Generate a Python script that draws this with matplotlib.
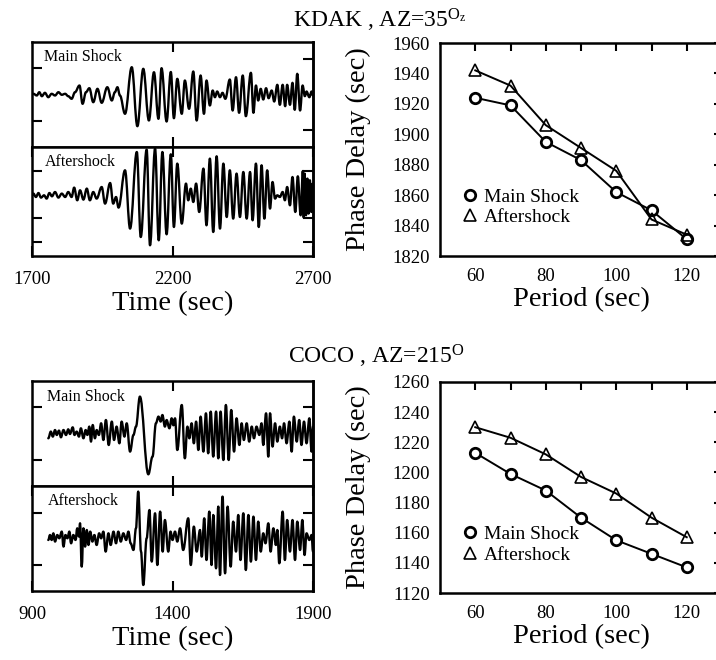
import matplotlib
matplotlib.use('Agg')
import matplotlib.pyplot as plt
from matplotlib.lines import Line2D
from matplotlib.path import Path
from matplotlib.patches import PathPatch

plt.rcParams['font.family'] = ['Liberation Serif', 'DejaVu Serif']
plt.rcParams['mathtext.fontset'] = 'custom'
plt.rcParams['mathtext.rm'] = 'Liberation Serif'
plt.rcParams['mathtext.it'] = 'Liberation Serif:italic'

# ---------------- data ----------------
periods = [60, 70, 80, 90, 100, 110, 120]
kdak_main_delay = [1924, 1919, 1895, 1883, 1862, 1850, 1831]
kdak_after_delay = [1942, 1932, 1906, 1891, 1876, 1844, 1834]
coco_main_delay = [1213, 1199, 1188, 1170, 1155, 1146, 1137]
coco_after_delay = [1230, 1223, 1212, 1197, 1186, 1170, 1157]

kdak_time_ticks = [1700, 2200, 2700]
coco_time_ticks = [900, 1400, 1900]
period_ticks = [60, 80, 100, 120]
period_minor = [70, 90, 110]
kdak_delay_ticks = [1820, 1840, 1860, 1880, 1900, 1920, 1940, 1960]
coco_delay_ticks = [1120, 1140, 1160, 1180, 1200, 1220, 1240, 1260]

# seismogram turning points (time in s, amplitude in arbitrary units)
kdak_main_t = [1700, 1705, 1717, 1726, 1735, 1746, 1758, 1770, 1782, 1794,
               1806, 1818, 1829, 1841, 1853, 1869, 1880, 1892, 1904, 1918,
               1933, 1948, 1968, 1984, 1995, 2004, 2013, 2031, 2055, 2075,
               2096, 2116, 2134, 2150, 2161, 2179, 2194, 2205, 2217, 2233,
               2244, 2259, 2274, 2286, 2300, 2312, 2321, 2333, 2343, 2351,
               2359, 2369, 2378, 2388, 2404, 2414, 2426, 2437, 2450, 2461,
               2479, 2488, 2497, 2505, 2514, 2523, 2533, 2542, 2553, 2562,
               2573, 2582, 2592, 2601, 2608, 2618, 2627, 2635, 2644, 2654,
               2663, 2671, 2677, 2687, 2695, 2700]
kdak_main_a = [0, 0.7, -1, 2.3, -1.7, 1.7, -2.7, 0.7, -1, 2.3,
               -0.3, 0.7, -1.7, -4.3, 2.3, 9, -9.3, 2.3, 6.3, -7.7,
               5.7, -8.3, 7.3, -6, 2.3, 7.3, -1, -19.3, 27.3, -31.7,
               25.7, -26, 22.3, -24.3, 26.3, -27, 22.5, -23.7, 15.7, -19.3,
               14, -14.3, 23, -26, 19, -19.3, 14, -11, 4, -2.7,
               3, -2.7, 1.7, -4.3, 15, -16, 17.3, -18.3, 19, -21.7,
               21.7, -18.3, 9, -6, 5.7, -5, 6.3, -3.7, 4, -7,
               9.7, -10.3, 9.7, -11.7, 9.7, -10.3, 11.7, -15.3, 20.7, -16,
               9, -1.7, 3, -2.7, 3, -1]

kdak_after_t = [1700, 1705, 1714, 1723, 1732, 1743, 1752, 1762, 1771, 1782,
                1794, 1806, 1818, 1829, 1841, 1850, 1861, 1871, 1883, 1895,
                1906, 1918, 1930, 1948, 1960, 1978, 1989, 1999, 2008, 2031,
                2049, 2073, 2087, 2108, 2120, 2138, 2151, 2164, 2179, 2194,
                2205, 2217, 2233, 2248, 2256, 2265, 2274, 2284, 2295, 2310,
                2321, 2333, 2345, 2357, 2369, 2381, 2393, 2404, 2416, 2428,
                2440, 2452, 2464, 2476, 2485, 2497, 2507, 2517, 2527, 2537,
                2547, 2556, 2565, 2573, 2582, 2592, 2600, 2608, 2618, 2627,
                2637, 2646, 2656, 2664, 2667, 2670, 2675, 2680, 2684, 2689,
                2694, 2699, 2700]
kdak_after_a = [0, 1.7, -1.7, 2.3, -2.3, 0, -3.3, 2.3, -1, 3.3,
                -2.3, 1.7, -1.7, 3.3, -1.7, 7.7, -5, 5, -4.3, 6.7,
                -5, 3.3, -3.3, 8.3, -8.3, 12.3, -8.3, -1.7, -12.3, 25,
                -33.3, 43.3, -41.7, 45.7, -50, 46.7, -45, 43.3, -39, 41,
                -31.7, 31.7, -28.3, 11.7, -5, 6.7, -6.7, 11.7, -16.7, 26.7,
                -30, 36.7, -36.7, 39, -33.3, 31.7, -21.7, 25, -23.3, 21.7,
                -21.7, 23.3, -23.3, 23.3, -25, 31.7, -31.7, 30, -23.3, 25,
                -13.3, 13.3, -3.3, 0, -1.7, 3.3, -5, 8.3, -10, 18.3,
                -16.7, 19, -20, 24.3, -22.3, 21.7, -20, 16.7, -18.3, 15,
                -16.7, 11.7, -5]

coco_main_t = [958, 967, 974, 982, 988, 996, 1003, 1012, 1021, 1029,
               1035, 1045, 1051, 1059, 1067, 1074, 1083, 1091, 1097, 1104,
               1110, 1116, 1124, 1130, 1138, 1146, 1154, 1163, 1173, 1184,
               1192, 1201, 1211, 1219, 1229, 1237, 1249, 1261, 1270, 1284,
               1314, 1329, 1341, 1350, 1358, 1364, 1373, 1379, 1389,
               1397, 1403, 1409, 1417, 1433, 1444, 1453, 1460, 1468, 1476,
               1484, 1492, 1500, 1510, 1519, 1527, 1536, 1545, 1555, 1563,
               1571, 1581, 1590, 1600, 1609, 1619, 1628, 1638, 1646, 1654,
               1664, 1673, 1682, 1690, 1699, 1709, 1717, 1723, 1733, 1741,
               1747, 1756, 1765, 1773, 1782, 1790, 1797, 1806, 1816, 1824,
               1832, 1842, 1851, 1859, 1868, 1877, 1887, 1895, 1900]
coco_main_a = [-5, 1.7, -3.3, 3.3, -1.7, 2.7, -4, 3.3, -1.7, 4,
               -0.7, 6, -1.7, 1.7, -3.3, 5, -5, 3.3, -1.7, 6.7,
               -8.3, 8.3, -5, 3.3, -1.7, 10, -6.7, 13.3, -11.7, 11.7,
               -6.7, 6.7, -10, 11.7, -3.3, 10, -18.3, -1.7, 6.7, 36.7,
               -41, -23.3, 10, 16.7, 11.7, 18.3, 6.7, 13.3, 5,
               15, 8, 15, -16.7, 28.3, -25, 6.7, -5, 10, -10,
               11.7, -16.7, 16.7, -18.3, 20, -20, 21.7, -23.3, 21.7, -25,
               21.7, -26.7, 28.3, -26.7, 23.3, -18.3, 15, -11.7, 10, -6.7,
               10, -8.3, 6.7, -5, 6.7, -1.7, 10, -11.7, 20, -23.3,
               20, -13.3, 10, -8.3, 6.7, -5, 10, -10, 11.7, -18.3,
               16.7, -8.3, 13.3, -11.7, 11.7, -10, 15, -18.3, 6.7]

coco_after_t = [958, 964, 970, 976, 982, 990, 997, 1006, 1012, 1019,
                1026, 1033, 1039, 1047, 1055, 1061, 1067, 1071, 1077, 1083,
                1089, 1095, 1101, 1107, 1115, 1122, 1130, 1139, 1146, 1154,
                1162, 1172, 1180, 1190, 1199, 1207, 1216, 1225, 1235, 1243,
                1251, 1261, 1270, 1278, 1288, 1296, 1308, 1318, 1326, 1338,
                1346, 1356, 1365, 1373, 1385, 1393, 1400, 1409, 1417, 1427,
                1438, 1456, 1465, 1476, 1486, 1498, 1504, 1513, 1521, 1531,
                1539, 1545, 1555, 1563, 1569, 1578, 1587, 1596, 1607, 1616,
                1626, 1634, 1642, 1652, 1661, 1670, 1679, 1688, 1697, 1705,
                1714, 1723, 1731, 1741, 1749, 1759, 1768, 1773, 1780, 1792,
                1800, 1808, 1818, 1827, 1836, 1844, 1854, 1862, 1870, 1877,
                1887, 1895, 1900]
coco_after_a = [-1.7, 3.3, -1.7, 5, -3.3, 3.3, 0, 6.7, -8.3, 3.3,
                0, 6.7, -5, 3.3, -1.7, 10, 1.7, 15, -28.3, 10,
                -8.3, 8.3, -6.7, 6.7, -3.3, 3.3, -6.7, 5, 0, 6.7,
                -13.3, 5, -6.7, 6.7, -5, 6.7, -3.3, 5, -1.7, 6.7,
                -5, -11.7, 10, 46.7, -13.3, -46.7, 0, 28.3, -23.3, 25,
                -26.7, 26.7, -13.3, 18.3, -13.3, 6.7, -1.7, 6.7, -3.3, 10,
                -11.7, 20, -26.7, 11.7, -13.3, 8.3, -18.3, 20, -21.7, 26.7,
                -26.7, 23.3, -30, 31.7, -36.7, 41.7, -35, 31.7, -28.3, 16.7,
                -13.3, 23.3, -21.7, 25, -31.7, 23.3, -23.3, 21.7, -21.7, 16.7,
                -13.3, 5, -5, 15, -13.3, 10, -6.7, 8.3, -25, 26.7,
                -21.7, 18.3, -13.3, 18.3, -21.7, 16.7, -11.7, 18.3, -16.7, 5,
                -1.7, 3.3, -13.3]

# ---------------- layout ----------------
W, H = 716, 660
fig = plt.figure(figsize=(W / 100, H / 100), dpi=100)


def box(l, t, r, b):
    return [l / W, 1 - b / H, (r - l) / W, (b - t) / H]


SP = 1.8   # spine width
TICKFS = 13.5
LABFS = 20.5


def style_spines(ax):
    for s in ax.spines.values():
        s.set_linewidth(SP)


def smooth_trace(ax, t, a, c=0.38, lw=1.7):
    """Draw the turning points joined by Bezier arcs with flat tangents."""
    verts = [(t[0], a[0])]
    codes = [Path.MOVETO]
    for i in range(len(t) - 1):
        dx = t[i + 1] - t[i]
        verts += [(t[i] + c * dx, a[i]), (t[i + 1] - c * dx, a[i + 1]),
                  (t[i + 1], a[i + 1])]
        codes += [Path.CURVE4] * 3
    patch = PathPatch(Path(verts, codes), fill=False, edgecolor='black',
                      lw=lw, joinstyle='round', capstyle='round')
    ax.add_patch(patch)


def seis_panel(ax, t, a, xlim, ylim, mid_tick, lticks, rticks, label, lab_xy):
    smooth_trace(ax, t, a)
    ax.set_xlim(*xlim)
    ax.set_ylim(*ylim)
    style_spines(ax)
    ax.set_xticks([mid_tick])
    ax.tick_params(axis='x', direction='in', top=True, bottom=True,
                   length=7.5, width=1.5, labelbottom=False)
    ax.set_yticks(lticks)
    ax.tick_params(axis='y', direction='in', left=True, right=False,
                   length=7.5, width=1.5, labelleft=False)
    sec = ax.secondary_yaxis('right')
    sec.set_yticks(rticks)
    sec.tick_params(direction='in', length=7.5, width=1.5, labelright=False)
    sec.spines['right'].set_linewidth(SP)
    ax.text(lab_xy[0], lab_xy[1], label, transform=ax.transAxes,
            fontsize=11.5, va='center', ha='left')


def delay_panel(ax, main, after, ylim, yticks, spacing):
    ax.plot(periods, main, color='black', lw=1.4, marker='o', ms=7.5,
            mfc='white', mec='black', mew=2.0, zorder=3)
    ax.plot(periods, after, color='black', lw=1.4, marker='^', ms=9,
            mfc='none', mec='black', mew=1.2, zorder=4)
    ax.set_xlim(50, 130)
    ax.set_ylim(*ylim)
    style_spines(ax)
    ax.set_xticks(period_ticks)
    ax.set_xticks(period_minor, minor=True)
    ax.tick_params(axis='x', which='both', direction='in', top=True,
                   bottom=False, labelbottom=True, labeltop=False,
                   length=5.5, width=1.5, labelsize=TICKFS, pad=8.5)
    ax.set_yticks(yticks)
    ax.tick_params(axis='y', direction='in', left=False, right=True,
                   labelleft=True, labelright=False, length=5.5, width=1.5,
                   labelsize=TICKFS, pad=7)
    ax.set_xlabel('Period (sec)', fontsize=LABFS, labelpad=2)
    ax.set_ylabel('Phase Delay (sec)', fontsize=LABFS)
    ax.yaxis.set_label_coords(-0.245, 0.5)
    handles = [Line2D([], [], ls='none', marker='o', ms=7.5, mfc='white',
                      mec='black', mew=2.0),
               Line2D([], [], ls='none', marker='^', ms=9, mfc='none',
                      mec='black', mew=1.2)]
    ax.legend(handles, ['Main Shock', 'Aftershock'], loc='center left',
              bbox_to_anchor=(0.08, 0.23), frameon=False, fontsize=14,
              handlelength=0.8, handletextpad=0.3, borderpad=0,
              borderaxespad=0, labelspacing=spacing)


# ---- KDAK ----
ax1 = fig.add_axes(box(32, 42, 313, 147))
seis_panel(ax1, kdak_main_t, kdak_main_a, (1700, 2700), (-52.5, 52.5), 2200,
           [-26.5, 26.5], [-35.5, 35.5], 'Main Shock', (0.043, 0.857))
ax2 = fig.add_axes(box(32, 147, 313, 256))
seis_panel(ax2, kdak_after_t, kdak_after_a, (1700, 2700), (-60.7, 48.3), 2200,
           [24.3, -22.7, -46.7], [24.3, -22.7, -46.7], 'Aftershock',
           (0.046, 0.862))
ax2.set_xticks(kdak_time_ticks)
ax2.tick_params(axis='x', labelbottom=True, labelsize=TICKFS, pad=11)
ax2.set_xlabel('Time (sec)', fontsize=LABFS, labelpad=2)

ax3 = fig.add_axes(box(440, 43, 722, 256))
delay_panel(ax3, kdak_main_delay, kdak_after_delay, (1820, 1960),
            kdak_delay_ticks, 0.15)

fig.text(380 / W, 1 - 28 / H, r'KDAK , AZ=35$^{\mathrm{O}_{\mathrm{z}}}$',
         fontsize=17, ha='center', va='baseline')

# ---- COCO ----
ax4 = fig.add_axes(box(32, 381, 313, 486))
seis_panel(ax4, coco_main_t, coco_main_a, (900, 1900), (-52.7, 52.3), 1400,
           [26.3, -26.7], [26.3, -26.7], 'Main Shock', (0.052, 0.85))
ax5 = fig.add_axes(box(32, 486, 313, 591))
seis_panel(ax5, coco_after_t, coco_after_a, (900, 1900), (-52.7, 52.3), 1400,
           [25.3, -26.7], [25.3, -26.7], 'Aftershock', (0.057, 0.857))
ax5.set_xticks(coco_time_ticks)
ax5.tick_params(axis='x', labelbottom=True, labelsize=TICKFS, pad=11)
ax5.set_xlabel('Time (sec)', fontsize=LABFS, labelpad=2)

ax6 = fig.add_axes(box(440, 382, 722, 593))
delay_panel(ax6, coco_main_delay, coco_after_delay, (1120, 1260),
            coco_delay_ticks, 0.15)

fig.text(376 / W, 1 - 363 / H, r'COCO , AZ=215$^{\mathrm{O}}$',
         fontsize=17, ha='center', va='baseline')

fig.savefig('out.png', dpi=100)
